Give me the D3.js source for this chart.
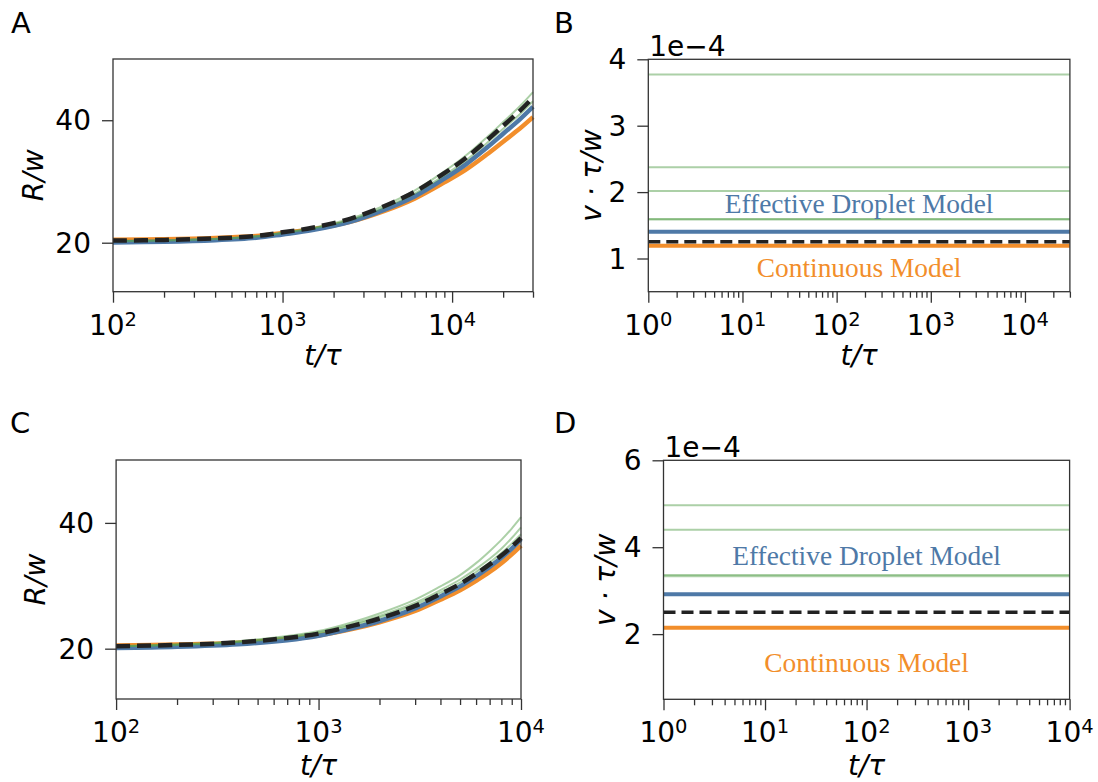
<!DOCTYPE html>
<html>
<head>
<meta charset="utf-8">
<script src="https://cdn.jsdelivr.net/npm/d3@7"></script>
<style>
  body { margin: 0; background: #fff; }
  text { fill: #000; }
</style>
</head>
<body>
<svg id="fig" width="1098" height="782"></svg>
<script>
// ---------- data ----------
// Panel A: droplet radius vs time
const tA = [100, 200, 400, 700, 1000, 1500, 2500, 4000, 6000, 9000, 12000, 16000, 20000, 25000, 30000];
const rA_continuous = [20.5, 20.57, 20.78, 21.1, 21.6, 22.2, 23.4, 25.2, 27.2, 29.85, 31.9, 34.4, 36.5, 38.6, 40.5];
const rA_effective  = [20.05, 20.15, 20.4, 20.8, 21.35, 22.05, 23.4, 25.4, 27.55, 30.45, 32.75, 35.5, 37.8, 40.1, 42.2];
const rA_theory     = [20.35, 20.45, 20.7, 21.1, 21.7, 22.45, 23.9, 26.0, 28.3, 31.35, 33.8, 36.7, 39.1, 41.5, 43.7];
const rA_sim1       = [20.3, 20.4, 20.65, 21.05, 21.65, 22.4, 23.9, 26.1, 28.5, 31.65, 34.2, 37.2, 39.7, 42.25, 44.6];
const rA_sim2       = [20.25, 20.35, 20.6, 21.0, 21.6, 22.3, 23.7, 25.75, 28.0, 31.0, 33.4, 36.25, 38.6, 40.95, 43.1];

// Panel B: front velocity (constant in time)
const tB = [1, 30000];
const vB_sims       = [3.77e-4, 2.374e-4, 2.017e-4, 1.595e-4, 1.588e-4];
const vB_effective  = 1.404e-4;
const vB_theory     = 1.253e-4;
const vB_continuous = 1.193e-4;

// Panel C: droplet radius vs time
const tC = [100, 200, 400, 700, 1000, 1500, 2000, 3000, 4000, 5000, 6000, 7000, 8000, 9000, 10000];
const rC_continuous = [20.5, 20.65, 20.95, 21.5, 22.1, 23.2, 24.2, 26.0, 27.8, 29.3, 30.8, 32.2, 33.6, 35.0, 36.4];
const rC_effective  = [20.1, 20.3, 20.7, 21.35, 22.05, 23.3, 24.4, 26.4, 28.3, 29.9, 31.5, 33.0, 34.45, 35.9, 37.4];
const rC_theory     = [20.4, 20.6, 21.0, 21.7, 22.4, 23.7, 24.8, 26.8, 28.7, 30.3, 31.9, 33.4, 34.8, 36.2, 37.6];
const rC_sim1       = [20.4, 20.7, 21.2, 22.0, 22.8, 24.3, 25.6, 27.8, 29.9, 31.7, 33.6, 35.5, 37.3, 39.1, 40.9];
const rC_sim2       = [20.4, 20.65, 21.1, 21.85, 22.6, 24.0, 25.2, 27.3, 29.3, 31.0, 32.7, 34.3, 35.9, 37.6, 39.3];
const rC_sim3       = [20.4, 20.6, 21.05, 21.75, 22.5, 23.8, 24.95, 27.0, 28.9, 30.5, 32.2, 33.7, 35.2, 36.7, 38.2];

// Panel D: front velocity (constant in time)
const tD = [1, 10000];
const vD_sims       = [4.964e-4, 4.403e-4, 3.36e-4, 3.33e-4];
const vD_effective  = 2.916e-4;
const vD_theory     = 2.502e-4;
const vD_continuous = 2.147e-4;

// tick values
const rTicks = [20, 40];
const vTicksB = [1e-4, 2e-4, 3e-4, 4e-4];
const vTicksD = [2e-4, 4e-4, 6e-4];

// ---------- styling ----------
const COL = { blue: "#4e79a7", orange: "#f28e2b", green: "#59a14f", dash: "#222" };
const SANS = "'DejaVu Sans', sans-serif";
const SERIF = "'Liberation Serif', 'Times New Roman', serif";
const FS = 28;            // tick / label font size
const SUP = 19.5;         // exponent font size
const FRAME = "#333";

const svg = d3.select("#fig");

function txt(sel) { return sel.append("text").style("font-family", SANS); }

function panel(o) {
  const g = svg.append("g");
  const x = d3.scaleLog().domain(o.xDomain).range([o.left, o.right]);
  const y = d3.scaleLinear().domain(o.yDomain).range([o.bottom, o.top]);

  const plot = g.append("g");
  const line = d3.line().x(d => x(d[0])).y(d => y(d[1])).curve(d3.curveCatmullRom.alpha(0.5));

  o.series.forEach(s => {
    plot.append("path")
      .datum(s.t.map((t, i) => [t, s.v[i]]))
      .attr("d", line)
      .attr("fill", "none")
      .attr("stroke", s.color)
      .attr("stroke-width", s.width)
      .attr("stroke-opacity", s.opacity ?? 1)
      .attr("stroke-dasharray", s.dash || null);
  });

  // frame
  g.append("rect")
    .attr("x", o.left).attr("y", o.top)
    .attr("width", o.right - o.left).attr("height", o.bottom - o.top)
    .attr("fill", "none").attr("stroke", FRAME).attr("stroke-width", 1.3);

  // x axis: decades + minor ticks
  const [lo, hi] = o.xDomain;
  const majors = [], minors = [];
  for (let e = Math.floor(Math.log10(lo)); e <= Math.ceil(Math.log10(hi)); e++) {
    for (let k = 1; k < 10; k++) {
      const v = k * Math.pow(10, e);
      if (v < lo * 0.999 || v > hi * 1.001) continue;
      (k === 1 ? majors : minors).push(v);
    }
  }
  const xMinor = d3.axisBottom(x).tickValues(minors).tickSize(6).tickFormat("");
  const xMajor = d3.axisBottom(x).tickValues(majors).tickSize(11).tickFormat("");
  [xMinor, xMajor].forEach(ax => {
    const a = g.append("g").attr("transform", `translate(0,${o.bottom})`).call(ax);
    a.select(".domain").remove();
    a.selectAll("line").attr("stroke", FRAME).attr("stroke-width", 1.3);
  });
  majors.forEach(v => {
    const t = txt(g)
      .attr("x", x(v)).attr("y", o.bottom + 43)
      .attr("text-anchor", "middle")
      .attr("font-size", FS);
    t.append("tspan").text("10");
    t.append("tspan").attr("dy", -9).attr("font-size", SUP).text(Math.round(Math.log10(v)));
  });

  // y axis
  const yAx = d3.axisLeft(y).tickValues(o.yTicks).tickSize(11).tickFormat("");
  const ya = g.append("g").attr("transform", `translate(${o.left},0)`).call(yAx);
  ya.select(".domain").remove();
  ya.selectAll("line").attr("stroke", FRAME).attr("stroke-width", 1.3);
  o.yTicks.forEach(v => {
    txt(g)
      .attr("x", o.left - 22).attr("y", y(v))
      .attr("dy", "0.36em")
      .attr("text-anchor", "end")
      .attr("font-size", FS)
      .text(o.yFmt(v));
  });
  if (o.offset) {
    txt(g).attr("x", o.left + 1).attr("y", o.top - 3.5)
      .attr("font-size", FS).text(o.offset);
  }

  // axis labels
  txt(g)
    .attr("x", (o.left + o.right) / 2).attr("y", o.xLabelY)
    .attr("text-anchor", "middle").attr("font-size", FS).attr("font-style", "italic")
    .text("t/τ");

  txt(g)
    .attr("transform", `translate(${o.yLabelX},${(o.top + o.bottom) / 2}) rotate(-90)`)
    .attr("text-anchor", "middle").attr("font-size", FS).attr("font-style", "italic")
    .text(o.yLabel);

  // panel letter
  txt(g).attr("x", o.letterX).attr("y", o.letterY)
    .attr("font-size", 29).text(o.letter);

  // model annotations
  (o.notes || []).forEach(n => {
    g.append("text")
      .attr("x", x(n.t)).attr("y", y(n.v))
      .attr("text-anchor", "middle")
      .style("font-family", SERIF)
      .attr("font-size", 27.4)
      .style("fill", n.color)
      .text(n.text);
  });
  return { x, y };
}

const thin = (t, v) => ({ t, v, color: COL.green, width: 2, opacity: 0.5 });
const flat = (t, v) => t.map(() => v);

// Panel A
panel({
  letter: "A", letterX: 11, letterY: 33,
  left: 113, right: 533, top: 59, bottom: 291.7,
  xDomain: [100, 30000], yDomain: [12, 50],
  yTicks: rTicks, yFmt: d => d,
  yLabel: "R/w", yLabelX: 43, xLabelY: 365,
  series: [
    { t: tA, v: rA_continuous, color: COL.orange, width: 4.5 },
    { t: tA, v: rA_effective, color: COL.blue, width: 4.5 },
    thin(tA, rA_sim1), thin(tA, rA_sim2),
    { t: tA, v: rA_theory, color: COL.dash, width: 4.5, dash: "14,7" }
  ]
});

// Panel B
panel({
  letter: "B", letterX: 554, letterY: 33,
  left: 648.3, right: 1069.9, top: 59.3, bottom: 291.7,
  xDomain: [1, 30000], yDomain: [0.5e-4, 4e-4],
  yTicks: vTicksB, yFmt: d => Math.round(d / 1e-4), offset: "1e\u22124",
  yLabel: "v · τ/w", yLabelX: 601, xLabelY: 365,
  series: [
    ...vB_sims.map(v => thin(tB, flat(tB, v))),
    { t: tB, v: flat(tB, vB_continuous), color: COL.orange, width: 4 },
    { t: tB, v: flat(tB, vB_effective), color: COL.blue, width: 4 },
    { t: tB, v: flat(tB, vB_theory), color: COL.dash, width: 3.5, dash: "12,6" }
  ],
  notes: [
    { t: 173.2, v: 1.68e-4, text: "Effective Droplet Model", color: COL.blue },
    { t: 173.2, v: 0.726e-4, text: "Continuous Model", color: COL.orange }
  ]
});

// Panel C
panel({
  letter: "C", letterX: 10, letterY: 433,
  left: 116.1, right: 521, top: 460, bottom: 699,
  xDomain: [100, 10000], yDomain: [12, 50],
  yTicks: rTicks, yFmt: d => d,
  yLabel: "R/w", yLabelX: 45, xLabelY: 775,
  series: [
    { t: tC, v: rC_continuous, color: COL.orange, width: 4.5 },
    { t: tC, v: rC_effective, color: COL.blue, width: 4.5 },
    thin(tC, rC_sim1), thin(tC, rC_sim2), thin(tC, rC_sim3),
    { t: tC, v: rC_theory, color: COL.dash, width: 4.5, dash: "14,7" }
  ]
});

// Panel D
panel({
  letter: "D", letterX: 554, letterY: 433,
  left: 663.5, right: 1069.6, top: 460.3, bottom: 699.3,
  xDomain: [1, 10000], yDomain: [0.5e-4, 6e-4],
  yTicks: vTicksD, yFmt: d => Math.round(d / 1e-4), offset: "1e\u22124",
  yLabel: "v · τ/w", yLabelX: 615, xLabelY: 775,
  series: [
    ...vD_sims.map(v => thin(tD, flat(tD, v))),
    { t: tD, v: flat(tD, vD_continuous), color: COL.orange, width: 4 },
    { t: tD, v: flat(tD, vD_effective), color: COL.blue, width: 4 },
    { t: tD, v: flat(tD, vD_theory), color: COL.dash, width: 3.5, dash: "12,6" }
  ],
  notes: [
    { t: 100, v: 3.59e-4, text: "Effective Droplet Model", color: COL.blue },
    { t: 100, v: 1.135e-4, text: "Continuous Model", color: COL.orange }
  ]
});
</script>
</body>
</html>
